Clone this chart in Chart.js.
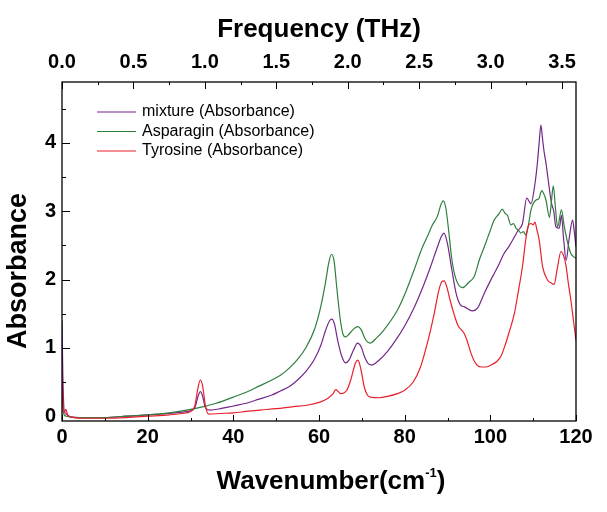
<!DOCTYPE html>
<html>
<head>
<meta charset="utf-8">
<script src="https://cdn.jsdelivr.net/npm/chart.js@4"></script>
<style>
  html, body { margin: 0; padding: 0; background: #fff; }
  #wrap { width: 607px; height: 512px; }
</style>
</head>
<body>
<div id="wrap"><canvas id="c" width="607" height="512"></canvas></div>
<script>
// ---- Data ----
const seriesNames = ['mixture (Absorbance)', 'Asparagin (Absorbance)', 'Tyrosine (Absorbance)'];

const wnMixture = [0, 0.2, 0.5, 1, 2, 5, 10, 15, 20, 25, 28, 30, 31, 31.8, 32.3, 32.8, 33.5, 34.5, 37, 40, 43, 46, 49, 51, 53, 55, 57, 59, 60.5, 61.5, 62.5, 63, 63.6, 64.4, 65.3, 66.2, 67, 68, 69, 69.8, 70.7, 71.5, 72.3, 74, 76, 78, 80, 82, 84, 86, 87.5, 88.5, 89.2, 90, 91, 92, 93, 94, 95.8, 97, 98.6, 100, 101, 102, 103.2, 104.5, 105.6, 106.5, 107.5, 108.5, 109.5, 110.3, 110.9, 111.4, 111.8, 112.2, 112.6, 113, 113.5, 114.3, 114.8, 115.3, 116.1, 116.6, 117.1, 117.7, 118.4, 119.2, 119.6, 120];
const absMixture = [1.40, 0.60, 0.08, 0.03, -0.01, -0.02, -0.02, 0.00, 0.02, 0.04, 0.06, 0.08, 0.12, 0.30, 0.36, 0.30, 0.12, 0.09, 0.11, 0.15, 0.19, 0.25, 0.31, 0.37, 0.43, 0.53, 0.66, 0.84, 1.05, 1.25, 1.40, 1.42, 1.35, 1.10, 0.88, 0.78, 0.82, 0.96, 1.07, 1.02, 0.86, 0.77, 0.75, 0.82, 0.95, 1.12, 1.32, 1.56, 1.85, 2.18, 2.45, 2.62, 2.68, 2.52, 2.15, 1.80, 1.63, 1.60, 1.54, 1.58, 1.80, 1.98, 2.10, 2.22, 2.38, 2.50, 2.62, 2.72, 2.82, 3.19, 3.11, 3.35, 3.65, 4.00, 4.26, 4.05, 3.85, 3.70, 3.46, 3.11, 3.00, 2.77, 2.75, 2.94, 2.60, 2.28, 2.60, 2.87, 2.70, 2.48];

const wnAsparagin = [0, 0.3, 1, 3, 10, 15, 20, 25, 30, 33, 36, 40, 43, 46, 49, 51, 53, 55, 57, 59, 60.4, 61.5, 62.3, 62.9, 63.5, 64.2, 65, 65.6, 66.2, 67, 68, 69, 69.8, 70.8, 71.9, 73.5, 75, 78.3, 80, 82.2, 84, 85.3, 86.5, 87.6, 88.5, 89, 89.6, 90.3, 91, 91.9, 93.5, 95, 96.2, 97.5, 98.6, 100, 100.9, 102, 102.8, 103.4, 104, 104.8, 105.4, 106, 106.6, 107.1, 107.7, 108.3, 108.9, 109.5, 110.6, 111.3, 112, 112.5, 113, 113.8, 114.2, 114.7, 115.2, 115.7, 116.6, 117.2, 117.9, 118.8, 120];
const absAsparagin = [0.35, 0.05, 0.00, -0.02, -0.02, 0.00, 0.02, 0.05, 0.10, 0.14, 0.19, 0.28, 0.35, 0.44, 0.53, 0.60, 0.70, 0.83, 1.01, 1.28, 1.60, 1.95, 2.25, 2.37, 2.28, 1.85, 1.40, 1.20, 1.16, 1.20, 1.27, 1.31, 1.27, 1.13, 1.07, 1.15, 1.25, 1.55, 1.78, 2.14, 2.45, 2.63, 2.80, 2.92, 3.10, 3.15, 3.05, 2.70, 2.30, 2.02, 1.88, 1.96, 2.04, 2.30, 2.48, 2.72, 2.87, 2.96, 3.03, 2.97, 2.94, 2.80, 2.82, 2.75, 2.72, 2.68, 2.70, 2.65, 2.80, 3.02, 3.16, 3.18, 3.30, 3.25, 3.16, 2.91, 3.10, 3.37, 3.05, 2.77, 3.02, 2.80, 2.58, 2.38, 2.31];

const wnTyrosine = [0, 0.2, 0.5, 0.9, 1.3, 2, 5, 10, 15, 20, 25, 28, 30, 31, 31.7, 32.3, 32.8, 33.5, 34.2, 37, 40, 43, 46.3, 50, 54, 57.2, 60.4, 62, 63.3, 63.9, 64.5, 65, 66.5, 67.5, 68.5, 69.1, 69.8, 70.6, 71.3, 72, 74, 76, 78.3, 80, 82, 83.7, 85, 86, 86.9, 88, 88.7, 89.2, 89.8, 90.6, 91.5, 92.5, 93.3, 93.9, 94.6, 95.5, 96.5, 97.8, 99, 100.5, 101.5, 102.5, 103.5, 104.5, 105.6, 106.6, 107.5, 108.2, 108.7, 109.5, 110, 110.4, 110.9, 111.4, 112.2, 113.4, 114.2, 114.9, 115.6, 116.5, 117.1, 117.7, 118.2, 118.8, 119.4, 120];
const absTyrosine = [0.65, 0.25, 0.05, 0.10, 0.02, -0.01, -0.03, -0.03, -0.02, 0.00, 0.02, 0.04, 0.07, 0.15, 0.40, 0.53, 0.45, 0.15, 0.03, 0.04, 0.05, 0.07, 0.09, 0.11, 0.14, 0.16, 0.21, 0.26, 0.33, 0.39, 0.36, 0.33, 0.38, 0.55, 0.78, 0.82, 0.68, 0.42, 0.31, 0.28, 0.27, 0.29, 0.33, 0.38, 0.50, 0.72, 1.00, 1.25, 1.50, 1.85, 1.97, 1.98, 1.90, 1.70, 1.50, 1.32, 1.26, 1.21, 1.10, 0.92, 0.78, 0.72, 0.72, 0.76, 0.80, 0.88, 1.05, 1.25, 1.50, 1.85, 2.19, 2.55, 2.75, 2.82, 2.80, 2.84, 2.72, 2.58, 2.19, 1.99, 1.95, 1.93, 2.15, 2.41, 2.35, 2.19, 1.95, 1.70, 1.40, 1.11];

const wavenumberTicks = [0, 20, 40, 60, 80, 100, 120];
const frequencyTicks = [0.0, 0.5, 1.0, 1.5, 2.0, 2.5, 3.0, 3.5];
const absorbanceTicks = [0, 1, 2, 3, 4];

const CM_PER_THZ = 33.356;
const X_MIN = 0, X_MAX = 120, Y_MIN = -0.07, Y_MAX = 4.89;
const colors = ['#74278a', '#2f7f3c', '#e8202c'];

function pts(xs, ys) {
  const n = Math.min(xs.length, ys.length);
  const out = [];
  for (let i = 0; i < n; i++) out.push({ x: xs[i], y: ys[i] });
  return out;
}

const FONT = "'Liberation Sans', Arial, Helvetica, sans-serif";

// ---- custom drawing: frame, inward ticks, titles, legend ----
const decor = {
  id: 'decor',
  afterDatasetsDraw(chart) {
    const ctx = chart.ctx;
    const a = chart.chartArea;
    const sx = chart.scales.x, sx2 = chart.scales.x2, sy = chart.scales.y;
    ctx.save();
    ctx.strokeStyle = '#000';
    ctx.lineWidth = 1.3;
    ctx.strokeRect(a.left, a.top, a.right - a.left, a.bottom - a.top);
    ctx.lineWidth = 1;
    ctx.beginPath();
    // bottom ticks (inward)
    for (let v = 0; v <= X_MAX + 1e-9; v += 10) {
      const px = Math.round(sx.getPixelForValue(v)) + 0.5;
      const len = (v % 20 === 0) ? 6 : 3;
      ctx.moveTo(px, a.bottom); ctx.lineTo(px, a.bottom - len);
    }
    // top ticks (inward)
    for (let v = 0; v <= sx2.max + 1e-9; v += 0.25) {
      const px = Math.round(sx2.getPixelForValue(v)) + 0.5;
      const major = Math.abs(v * 2 - Math.round(v * 2)) < 1e-6;
      const len = major ? 7 : 3;
      ctx.moveTo(px, a.top); ctx.lineTo(px, a.top + len);
    }
    // left ticks (inward)
    for (let v = 0.5; v <= Y_MAX; v += 0.5) {
      const py = Math.round(sy.getPixelForValue(v)) + 0.5;
      const major = Math.abs(v - Math.round(v)) < 1e-6;
      const len = major ? 8 : 4;
      ctx.moveTo(a.left, py); ctx.lineTo(a.left + len, py);
    }
    ctx.stroke();

    // titles
    ctx.fillStyle = '#000';
    ctx.textBaseline = 'alphabetic';
    ctx.font = 'bold 26px ' + FONT;
    ctx.textAlign = 'center';
    ctx.fillText('Frequency (THz)', (a.left + a.right) / 2, 37);

    // Wavenumber(cm^-1)
    const main = 'Wavenumber(cm';
    ctx.font = 'bold 26px ' + FONT;
    const w1 = ctx.measureText(main).width;
    ctx.font = 'bold 13px ' + FONT;
    const w2 = ctx.measureText('-1').width;
    ctx.font = 'bold 26px ' + FONT;
    const w3 = ctx.measureText(')').width;
    const total = w1 + w2 + w3;
    let x0 = 331 - total / 2;
    const base = 489;
    ctx.textAlign = 'left';
    ctx.fillText(main, x0, base);
    ctx.font = 'bold 13px ' + FONT;
    ctx.fillText('-1', x0 + w1, base - 12);
    ctx.font = 'bold 26px ' + FONT;
    ctx.fillText(')', x0 + w1 + w2, base);

    // Absorbance (rotated)
    ctx.save();
    ctx.translate(26, 271);
    ctx.rotate(-Math.PI / 2);
    ctx.textAlign = 'center';
    ctx.font = 'bold 27px ' + FONT;
    ctx.fillText('Absorbance', 0, 0);
    ctx.restore();

    // legend
    const rows = [112, 131.5, 151];
    ctx.font = '16px ' + FONT;
    ctx.textBaseline = 'middle';
    ctx.textAlign = 'left';
    for (let i = 0; i < seriesNames.length; i++) {
      ctx.strokeStyle = colors[i];
      ctx.lineWidth = 1.2;
      ctx.beginPath();
      ctx.moveTo(97, rows[i]); ctx.lineTo(136, rows[i]);
      ctx.stroke();
      ctx.fillStyle = '#000';
      ctx.fillText(seriesNames[i], 142, rows[i]);
    }
    ctx.restore();
  }
};

const series = [
  { label: seriesNames[0], data: pts(wnMixture, absMixture), color: colors[0], order: 3 },
  { label: seriesNames[1], data: pts(wnAsparagin, absAsparagin), color: colors[1], order: 2 },
  { label: seriesNames[2], data: pts(wnTyrosine, absTyrosine), color: colors[2], order: 1 }
];

new Chart(document.getElementById('c'), {
  type: 'line',
  data: {
    datasets: series.map(s => ({
      label: s.label,
      data: s.data,
      borderColor: s.color,
      backgroundColor: s.color,
      borderWidth: 1.2,
      pointRadius: 0,
      fill: false,
      cubicInterpolationMode: 'monotone',
      order: s.order,
      xAxisID: 'x',
      yAxisID: 'y'
    }))
  },
  options: {
    responsive: false,
    animation: false,
    events: [],
    layout: { padding: { left: 0, right: 31, top: 0, bottom: 0 } },
    plugins: { legend: { display: false }, tooltip: { enabled: false }, title: { display: false } },
    scales: {
      x: {
        type: 'linear', position: 'bottom', min: X_MIN, max: X_MAX,
        grid: { display: false, drawTicks: false },
        border: { display: false },
        afterBuildTicks: s => { s.ticks = wavenumberTicks.map(v => ({ value: v })); },
        afterFit: s => { s.height = 91; },
        ticks: { autoSkip: false, maxRotation: 0, padding: 4, color: '#000',
          font: { family: FONT, size: 20, weight: 'bold' },
          callback: v => String(v) }
      },
      x2: {
        type: 'linear', position: 'top', min: 0, max: X_MAX / CM_PER_THZ,
        grid: { display: false, drawTicks: false },
        border: { display: false },
        afterBuildTicks: s => { s.ticks = frequencyTicks.map(v => ({ value: v })); },
        afterFit: s => { s.height = 82; },
        ticks: { autoSkip: false, maxRotation: 0, padding: 8, color: '#000',
          font: { family: FONT, size: 20, weight: 'bold' },
          callback: v => Number(v).toFixed(1) }
      },
      y: {
        type: 'linear', position: 'left', min: Y_MIN, max: Y_MAX,
        grid: { display: false, drawTicks: false },
        border: { display: false },
        afterBuildTicks: s => { s.ticks = absorbanceTicks.map(v => ({ value: v })); },
        afterFit: s => { s.width = 62; },
        ticks: { autoSkip: false, padding: 6, color: '#000',
          font: { family: FONT, size: 20, weight: 'bold' },
          callback: v => String(v) }
      }
    }
  },
  plugins: [decor]
});
</script>
</body>
</html>
